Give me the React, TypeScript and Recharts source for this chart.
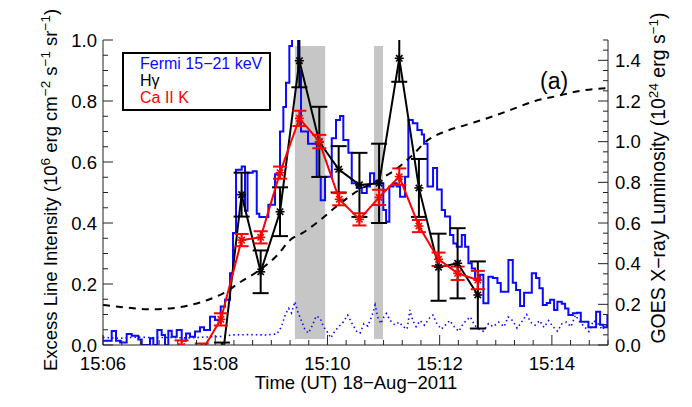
import { LineChart, Line, XAxis, YAxis, ReferenceArea, ErrorBar } from "recharts";

// time in minutes after 15:00 UT
const FERMI_T = [
  6.0, 6.155, 6.232, 6.303, 6.422, 6.512, 6.629, 6.69, 6.838, 6.897,
  6.968, 7.046, 7.105, 7.164, 7.225, 7.314, 7.403, 7.48, 7.551, 7.64,
  7.729, 7.8, 7.907, 7.996, 8.098, 8.175, 8.264, 8.317, 8.371, 8.472,
  8.531, 8.576, 8.668, 8.74, 8.786, 8.947, 9.066, 9.155, 9.214, 9.262,
  9.321, 9.369, 9.476, 9.529, 9.654, 9.809, 9.88, 9.957, 10.077, 10.153,
  10.225, 10.283, 10.373, 10.433, 10.522, 10.611, 10.701, 10.759, 10.831, 10.996,
  11.045, 11.103, 11.175, 11.235, 11.294, 11.383, 11.442, 11.521, 11.603, 11.681,
  11.722, 11.784, 11.882, 11.954, 12.037, 12.096, 12.185, 12.244, 12.305, 12.394,
  12.453, 12.512, 12.572, 12.631, 12.72, 12.779, 12.868, 12.947, 13.029, 13.089,
  13.225, 13.303, 13.362, 13.433, 13.504, 13.642, 13.718, 13.777, 13.838, 13.909,
  13.968, 14.039, 14.098, 14.176, 14.235, 14.294, 14.373, 14.444, 14.515, 14.651,
  14.788, 14.859, 14.918, 14.989, 15.0,
];
const FERMI_V = [
  0.014, 0.046, 0.014, 0.008, 0.036, 0.03, 0.018, 0.0, 0.022, 0.0,
  0.049, 0.033, 0.0, 0.047, 0.027, 0.049, 0.014, 0.038, 0.027, 0.044,
  0.058, 0.049, 0.093, 0.082, 0.126, 0.148, 0.235, 0.367, 0.575, 0.585,
  0.44, 0.565, 0.57, 0.43, 0.42, 0.46, 0.56, 0.7, 0.78, 0.86,
  0.98, 1.08, 0.9, 0.7, 0.66, 0.552, 0.475, 0.552, 0.678, 0.738,
  0.751, 0.672, 0.63, 0.53, 0.515, 0.498, 0.52, 0.563, 0.53, 0.443,
  0.404, 0.52, 0.53, 0.52, 0.486, 0.552, 0.738, 0.727, 0.705, 0.69,
  0.66, 0.52, 0.58, 0.51, 0.443, 0.421, 0.361, 0.333, 0.322, 0.361,
  0.322, 0.268, 0.251, 0.213, 0.23, 0.137, 0.224, 0.22, 0.203, 0.175,
  0.279, 0.204, 0.18, 0.128, 0.171, 0.235, 0.22, 0.186, 0.131, 0.138,
  0.148, 0.115, 0.142, 0.135, 0.12, 0.098, 0.104, 0.106, 0.076, 0.058,
  0.109, 0.066, 0.058, 0.095, 0.095,
];

// dotted blue trace
const DOT_T = [
  6.0, 6.3, 6.6, 6.9, 7.2, 7.5, 7.8, 8.1, 8.3, 8.6,
  8.9, 9.1, 9.18, 9.25, 9.31, 9.36, 9.42, 9.47, 9.53, 9.6,
  9.66, 9.72, 9.8, 9.87, 9.93, 10.0, 10.06, 10.13, 10.2, 10.28,
  10.36, 10.44, 10.52, 10.58, 10.65, 10.72, 10.8, 10.85, 10.9, 10.95,
  11.0, 11.05, 11.12, 11.2, 11.28, 11.35, 11.42, 11.47, 11.52, 11.58,
  11.65, 11.73, 11.8, 11.88, 11.95, 12.03, 12.1, 12.18, 12.26, 12.34,
  12.42, 12.5, 12.55, 12.62, 12.7, 12.78, 12.87, 12.95, 13.05, 13.15,
  13.22, 13.3, 13.38, 13.46, 13.55, 13.62, 13.7, 13.78, 13.86, 13.94,
  14.02, 14.1, 14.18, 14.26, 14.34, 14.42, 14.5, 14.58, 14.66, 14.74,
  14.82, 14.9, 14.96, 15.0,
];
const DOT_V = [
  0.025, 0.022, 0.026, 0.024, 0.025, 0.023, 0.026, 0.028, 0.033, 0.034,
  0.033, 0.036, 0.06, 0.1, 0.12, 0.105, 0.142, 0.11, 0.082, 0.05,
  0.039, 0.06, 0.095, 0.088, 0.06, 0.042, 0.023, 0.045, 0.06, 0.075,
  0.098, 0.07, 0.045, 0.039, 0.07, 0.062, 0.1, 0.131, 0.09, 0.07,
  0.09, 0.103, 0.08, 0.066, 0.075, 0.06, 0.052, 0.115, 0.08, 0.06,
  0.08, 0.065, 0.085, 0.098, 0.07, 0.052, 0.065, 0.08, 0.06, 0.045,
  0.07, 0.085, 0.092, 0.065, 0.052, 0.045, 0.07, 0.06, 0.075, 0.06,
  0.092, 0.08, 0.055, 0.075, 0.1, 0.075, 0.065, 0.08, 0.058, 0.08,
  0.06, 0.045, 0.07, 0.075, 0.06, 0.098, 0.075, 0.06, 0.044, 0.08,
  0.07, 0.05, 0.065, 0.06,
];

// GOES luminosity (right axis)
const GOES_T = [
  6.0, 6.4, 6.8, 7.2, 7.55, 7.9, 8.15, 8.45, 8.8, 9.1,
  9.35, 9.55, 9.85, 10.2, 10.55, 10.9, 11.25, 11.5, 11.8, 12.1,
  12.5, 12.9, 13.3, 13.7, 14.1, 14.5, 14.8, 15.0,
];
const GOES_V = [
  0.197, 0.185, 0.176, 0.18, 0.196, 0.225, 0.255, 0.31, 0.37, 0.44,
  0.52, 0.55, 0.61, 0.69, 0.76, 0.81, 0.87, 0.93, 1.01, 1.05,
  1.085, 1.12, 1.16, 1.2, 1.225, 1.25, 1.26, 1.263,
];

// H-gamma
const HG_T = [8.12, 8.47, 8.81, 9.155, 9.5, 9.855, 10.2, 10.57, 10.92, 11.28, 11.63, 11.98, 12.32, 12.68];
const HG_V = [-0.06, 0.493, 0.24, 0.437, 0.932, 0.666, 0.576, 0.525, 0.53, 0.94, 0.515, 0.255, 0.268, 0.164];
const HG_E = [0.068, 0.072, 0.07, 0.08, 0.087, 0.115, 0.076, 0.105, 0.13, 0.077, 0.095, 0.11, 0.115, 0.11];

// Ca II K
const CA_T = [7.4, 7.76, 8.1, 8.47, 8.81, 9.155, 9.5, 9.855, 10.21, 10.57, 10.92, 11.28, 11.63, 11.98, 12.32, 12.68];
const CA_V = [-0.005, -0.02, 0.084, 0.344, 0.353, 0.565, 0.743, 0.667, 0.478, 0.412, 0.484, 0.552, 0.39, 0.281, 0.235, 0.213];
const CA_E = [0.02, 0.025, 0.02, 0.02, 0.02, 0.02, 0.025, 0.022, 0.02, 0.02, 0.025, 0.027, 0.02, 0.022, 0.022, 0.03];

// shaded intervals
const BANDS = [
  [9.42, 9.96],
  [10.83, 10.99],
];

const TIME_LABELS = [6, 8, 10, 12, 14];
const LEFT_LABELS = [0, 0.2, 0.4, 0.6, 0.8, 1.0];
const RIGHT_LABELS = [0, 0.2, 0.4, 0.6, 0.8, 1.0, 1.2, 1.4];

const xTicks = Array.from({ length: 28 }, (_, i) => 6 + i / 3);
const leftTicks = Array.from({ length: 21 }, (_, i) => i * 0.05);
const rightTicks = Array.from({ length: 31 }, (_, i) => i * 0.05);

const FONT = "'Liberation Sans', Arial, Helvetica, sans-serif";
const AXIS = "#222";
const BLUE = "#0a0aff";
const RED = "#ff0000";

const fermi = FERMI_T.map((t, i) => ({ t, v: FERMI_V[i] }));
const dotted = DOT_T.map((t, i) => ({ t, v: DOT_V[i] }));
const goes = GOES_T.map((t, i) => ({ t, v: GOES_V[i] }));
const hg = HG_T.map((t, i) => ({ t, v: HG_V[i], e: HG_E[i] }));
const ca = CA_T.map((t, i) => ({ t, v: CA_V[i], e: CA_E[i] }));

const near = (a: number, list: number[]) => list.some((b) => Math.abs(a - b) < 1e-6);

function BottomTick({ x, y, payload }: any) {
  const major = near(payload.value, TIME_LABELS);
  return (
    <g>
      <line x1={x} x2={x} y1={y} y2={y - (major ? 10 : 5)} stroke={AXIS} />
      {major && (
        <text x={x} y={y + 25} textAnchor="middle" fontSize={18.5} fontFamily={FONT} fill="#000">
          {`15:${String(Math.round(payload.value)).padStart(2, "0")}`}
        </text>
      )}
    </g>
  );
}

function TopTick({ x, y, payload }: any) {
  const major = near(payload.value, TIME_LABELS);
  return <line x1={x} x2={x} y1={y} y2={y + (major ? 10 : 5)} stroke={AXIS} />;
}

function LeftTick({ x, y, payload }: any) {
  const major = near(payload.value, LEFT_LABELS);
  return (
    <g>
      <line x1={x} x2={x + (major ? 10 : 5)} y1={y} y2={y} stroke={AXIS} />
      {major && (
        <text x={x - 6} y={y + 6.5} textAnchor="end" fontSize={18.5} fontFamily={FONT} fill="#000">
          {payload.value.toFixed(1)}
        </text>
      )}
    </g>
  );
}

function RightTick({ x, y, payload }: any) {
  const major = near(payload.value, RIGHT_LABELS);
  return (
    <g>
      <line x1={x} x2={x - (major ? 10 : 5)} y1={y} y2={y} stroke={AXIS} />
      {major && (
        <text x={x + 7} y={y + 6.5} textAnchor="start" fontSize={18.5} fontFamily={FONT} fill="#000">
          {payload.value.toFixed(1)}
        </text>
      )}
    </g>
  );
}

function Star({ cx, cy, color }: any) {
  if (cx == null || cy == null) return null;
  const r = 4.5;
  const d = r * 0.71;
  return (
    <g stroke={color} strokeWidth={1.6}>
      <line x1={cx - r} y1={cy} x2={cx + r} y2={cy} />
      <line x1={cx} y1={cy - r} x2={cx} y2={cy + r} />
      <line x1={cx - d} y1={cy - d} x2={cx + d} y2={cy + d} />
      <line x1={cx - d} y1={cy + d} x2={cx + d} y2={cy - d} />
    </g>
  );
}

const sup = { fontSize: 13.5, baselineShift: "super" } as const;

const CLIP_CSS = `
  .recharts-surface .recharts-line,
  .recharts-surface .recharts-line-dots,
  .recharts-surface .recharts-errorBar { clip-path: url(#plotclip); }
`;

export default function App() {
  return (
    <div style={{ position: "absolute", left: 0, top: 0, width: 692, height: 407, background: "#fff" }}>
      <style>{CLIP_CSS}</style>
      <LineChart width={692} height={407} margin={{ top: 40, right: 24, bottom: 32, left: 43 }}>
        <defs>
          <clipPath id="plotclip" clipPathUnits="userSpaceOnUse">
            <rect x={103} y={40} width={505} height={305} />
          </clipPath>
        </defs>
        <XAxis
          xAxisId="b"
          dataKey="t"
          type="number"
          domain={[6, 15]}
          allowDataOverflow
          ticks={xTicks}
          interval={0}
          tick={<BottomTick />}
          tickSize={0}
          tickMargin={0}
          height={30}
          axisLine={{ stroke: AXIS }}
          tickLine={false}
        />
        <XAxis
          xAxisId="top"
          orientation="top"
          dataKey="t"
          type="number"
          domain={[6, 15]}
          allowDataOverflow
          ticks={xTicks}
          interval={0}
          tick={<TopTick />}
          tickSize={0}
          tickMargin={0}
          height={0}
          axisLine={{ stroke: AXIS }}
          tickLine={false}
        />
        <YAxis
          yAxisId="l"
          type="number"
          domain={[0, 1]}
          allowDataOverflow
          ticks={leftTicks}
          interval={0}
          tick={<LeftTick />}
          tickSize={0}
          tickMargin={0}
          width={60}
          axisLine={{ stroke: AXIS }}
          tickLine={false}
        />
        <YAxis
          yAxisId="r"
          orientation="right"
          type="number"
          domain={[0, 1.5]}
          allowDataOverflow
          ticks={rightTicks}
          interval={0}
          tick={<RightTick />}
          tickSize={0}
          tickMargin={0}
          width={60}
          axisLine={{ stroke: AXIS }}
          tickLine={false}
        />

        {BANDS.map(([a, b]) => (
          <ReferenceArea
            key={a}
            xAxisId="b"
            yAxisId="l"
            x1={a}
            x2={b}
            y1={0.02}
            y2={0.98}
            fill="#c6c6c6"
            fillOpacity={1}
            stroke="none"
          />
        ))}

        <Line
          xAxisId="b"
          yAxisId="l"
          data={fermi}
          dataKey="v"
          type="stepAfter"
          stroke={BLUE}
          strokeWidth={2}
          dot={false}
          isAnimationActive={false}
        />
        <Line
          xAxisId="b"
          yAxisId="l"
          data={dotted}
          dataKey="v"
          type="linear"
          stroke={BLUE}
          strokeWidth={1.6}
          strokeDasharray="1.5 3"
          dot={false}
          isAnimationActive={false}
        />
        <Line
          xAxisId="b"
          yAxisId="r"
          data={goes}
          dataKey="v"
          type="monotone"
          stroke="#000"
          strokeWidth={2}
          strokeDasharray="7 6"
          dot={false}
          isAnimationActive={false}
        />
        <Line
          xAxisId="b"
          yAxisId="l"
          data={hg}
          dataKey="v"
          type="linear"
          stroke="#000"
          strokeWidth={2}
          dot={(p: any) => <Star key={p.index} cx={p.cx} cy={p.cy} color="#000" />}
          isAnimationActive={false}
        >
          <ErrorBar dataKey="e" direction="y" width={8} strokeWidth={2} stroke="#000" />
        </Line>
        <Line
          xAxisId="b"
          yAxisId="l"
          data={ca}
          dataKey="v"
          type="linear"
          stroke={RED}
          strokeWidth={2}
          dot={(p: any) => <Star key={p.index} cx={p.cx} cy={p.cy} color={RED} />}
          isAnimationActive={false}
        >
          <ErrorBar dataKey="e" direction="y" width={7} strokeWidth={2} stroke={RED} />
        </Line>
      </LineChart>

      <svg
        width={692}
        height={407}
        style={{ position: "absolute", left: 0, top: 0, pointerEvents: "none" }}
        fontFamily={FONT}
      >
        <rect x={123} y={53} width={147} height={57} fill="#fff" stroke="#000" strokeWidth={2} />
        <text x={140} y={69} fontSize={16} fill={BLUE}>Fermi 15−21 keV</text>
        <text x={140} y={86} fontSize={16} fill="#000">Hγ</text>
        <text x={140} y={103} fontSize={16} fill={RED}>Ca II K</text>

        <text x={540} y={89} fontSize={23} fill="#000">(a)</text>

        <text x={356} y={389} textAnchor="middle" fontSize={18.5} fill="#000">
          Time (UT) 18−Aug−2011
        </text>

        <text
          x={57}
          y={190}
          textAnchor="middle"
          fontSize={18.5}
          fill="#000"
          transform="rotate(-90 57 190)"
        >
          Excess Line Intensity (10<tspan style={sup}>6</tspan> erg cm<tspan style={sup}>−2</tspan> s
          <tspan style={sup}>−1</tspan> sr<tspan style={sup}>−1</tspan>)
        </text>

        <text
          x={665}
          y={178}
          textAnchor="middle"
          fontSize={19.5}
          fill="#000"
          transform="rotate(-90 665 178)"
        >
          GOES X−ray Luminosity (10<tspan style={sup}>24</tspan> erg s<tspan style={sup}>−1</tspan>)
        </text>
      </svg>
    </div>
  );
}
